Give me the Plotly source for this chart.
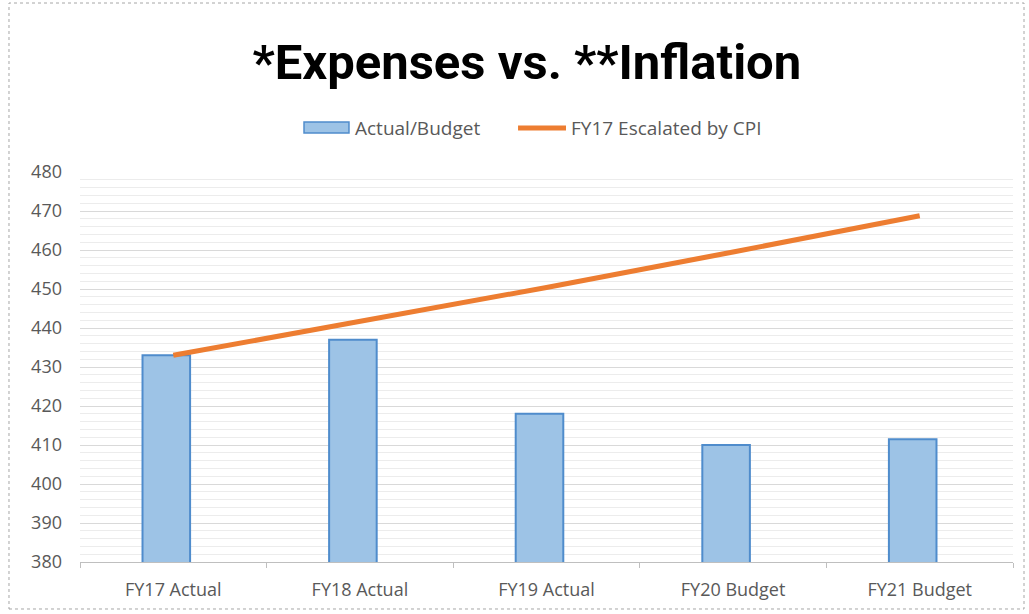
import plotly.graph_objects as go

# data
categories = ["FY17 Actual", "FY18 Actual", "FY19 Actual", "FY20 Budget", "FY21 Budget"]
actual_budget = [433, 437, 418, 410, 411.5]
fy17_cpi = [433, 441.7, 450.4, 459.5, 468.8]
y_ticks = list(range(380, 481, 10))
series_names = ["Actual/Budget", "FY17 Escalated by CPI"]

BAR_FILL = "#9dc3e6"
BAR_EDGE = "#4f8ccc"
ORANGE = "#ed7d31"
label_font = dict(family="Open Sans, sans-serif", size=18, color="#595959")

fig = go.Figure()
fig.add_trace(go.Bar(
    x=categories, y=actual_budget, name=series_names[0],
    width=0.255, offset=-0.165,
    marker=dict(color=BAR_FILL, line=dict(color=BAR_EDGE, width=2)),
))
fig.add_trace(go.Scatter(
    x=categories, y=fy17_cpi, name=series_names[1], mode="lines",
    line=dict(color=ORANGE, width=5),
))

fig.update_layout(
    width=1029, height=614,
    margin=dict(l=80, r=16, t=172, b=52),
    paper_bgcolor="white", plot_bgcolor="white",
    showlegend=False,
    title=dict(text="<b>*Expenses vs. **Inflation</b>", x=0.512, xanchor="center",
               y=0.900, yanchor="middle",
               font=dict(family="Roboto, sans-serif", size=49, color="black")),
)
fig.update_xaxes(
    showgrid=False, showline=True, linecolor="#bfbfbf", linewidth=1,
    ticks="outside", tickson="boundaries", tickcolor="#bfbfbf", ticklen=5,
    tickfont=label_font, ticklabelstandoff=11,
)
fig.update_yaxes(
    range=[380, 480], tickvals=y_ticks, showline=False, zeroline=False,
    gridcolor="#d9d9d9", gridwidth=1, tickfont=label_font, ticks="", ticklabelstandoff=17,
    minor=dict(dtick=2, showgrid=True, gridcolor="#ececec", gridwidth=1),
)

# Excel-style legend: wide bar swatch and a thick line swatch
fig.add_shape(type="rect", xref="paper", yref="paper", x0=0.2401, x1=0.2883, y0=1.100, y1=1.128,
              fillcolor=BAR_FILL, line=dict(color=BAR_EDGE, width=1.5))
fig.add_annotation(text=series_names[0], xref="paper", yref="paper", x=0.2926, y=1.1141,
                   xanchor="left", yanchor="middle", showarrow=False,
                   font=dict(family="Open Sans, sans-serif", size=19, color="#595959"))
fig.add_shape(type="line", xref="paper", yref="paper", x0=0.4695, x1=0.5209, y0=1.1128, y1=1.1128,
              line=dict(color=ORANGE, width=5))
fig.add_annotation(text=series_names[1], xref="paper", yref="paper", x=0.5241, y=1.1141,
                   xanchor="left", yanchor="middle", showarrow=False,
                   font=dict(family="Open Sans, sans-serif", size=19, color="#595959"))

# dashed outer border of the chart object
fig.add_shape(type="rect", xref="paper", yref="paper",
              x0=-0.0761, x1=1.0118, y0=-0.1205, y1=1.4333,
              line=dict(color="#a6a6a6", width=1, dash="dot"))

fig.write_html("out.html", config={"displayModeBar": False},
               post_script="document.body.style.margin='0';")
